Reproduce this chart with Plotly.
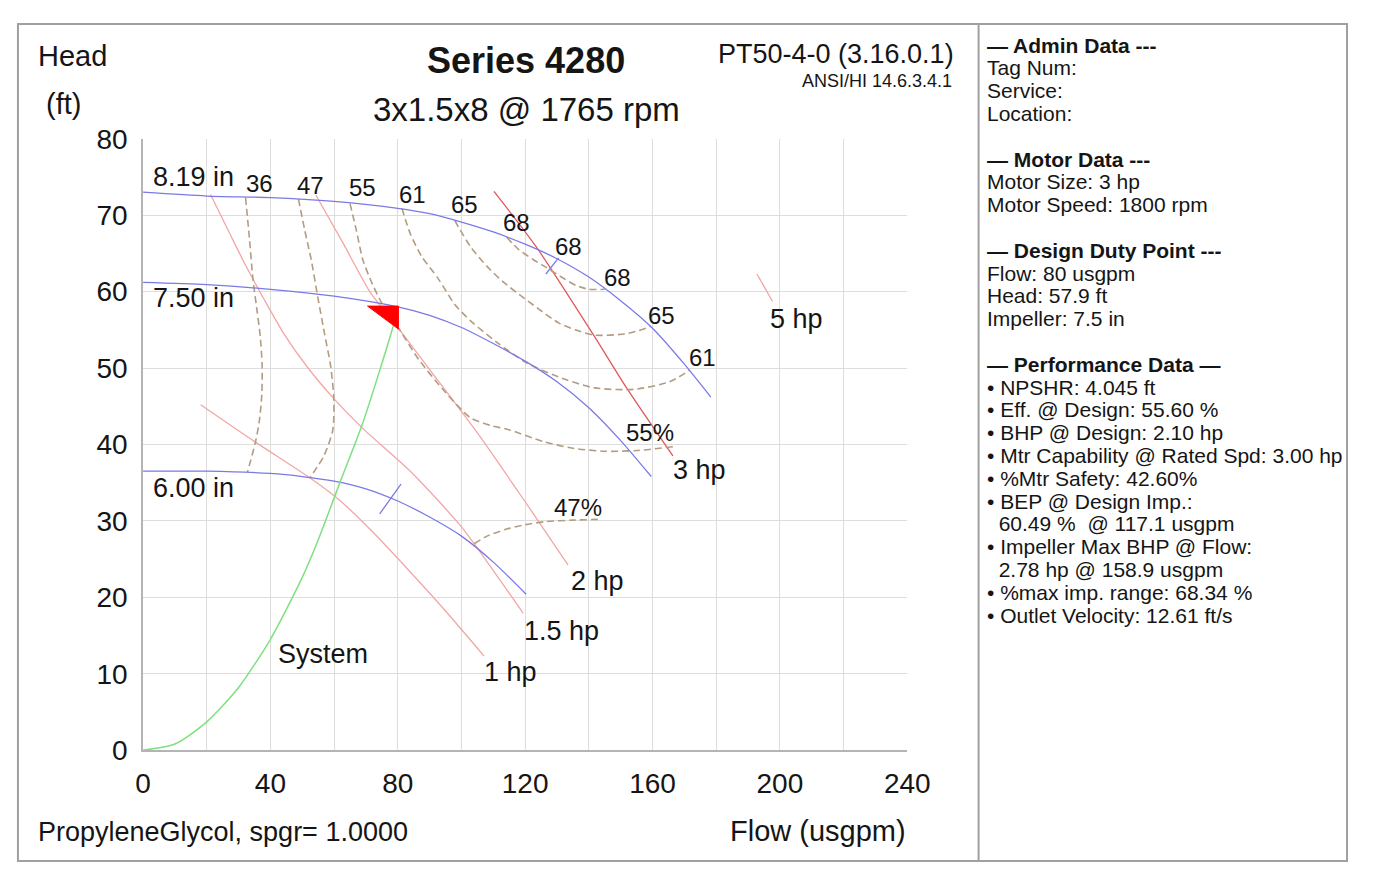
import plotly.graph_objects as go

# page has an 8px body margin; figure is sized to fit the 1379x886 window exactly
OFF = 8
FW, FH = 1379 - 2 * OFF, 886 - 2 * OFF

# ---------------- data ----------------
# Impeller head curves (flow usgpm, head ft)
IMP_819_Q = [0, 20, 40, 60, 80, 90, 100, 110, 120, 130, 140, 150, 160, 170, 178.3]
IMP_819_H = [73.0, 72.5, 72.3, 71.8, 70.9, 70.2, 69.1, 67.8, 66.2, 64.3, 61.9, 58.8, 55.2, 50.5, 46.2]
IMP_750_Q = [0, 20, 40, 60, 80, 90, 100, 110, 120, 130, 140, 150, 159.6]
IMP_750_H = [61.2, 60.9, 60.3, 59.4, 58.0, 56.9, 55.3, 53.2, 50.9, 48.2, 44.8, 40.5, 35.8]
IMP_600_Q = [0, 20, 40, 50, 60, 70, 80, 90, 100, 110, 120.3]
IMP_600_H = [36.5, 36.5, 36.2, 35.8, 35.2, 34.2, 32.6, 30.5, 28.0, 24.6, 20.4]
IMP_LABELS = ["8.19 in", "7.50 in", "6.00 in"]
IMP_LABEL_H = [75.0, 59.2, 34.3]

# Efficiency iso-lines (%)
E36_Q = [32.2, 33.4, 34.5, 35.8, 36.8, 37.4, 37.3, 36.5, 35.3, 32.8]
E36_H = [72.3, 67.0, 61.7, 57.5, 54.2, 50.3, 46.5, 43.0, 40.3, 36.4]
E47A_Q = [48.8, 50.8, 52.8, 55.0, 57.0, 58.9, 59.9, 59.6, 56.8, 52.5]
E47A_H = [72.1, 68.0, 64.2, 59.0, 54.5, 50.3, 46.1, 41.9, 38.5, 35.7]
E47B_Q = [104, 108, 114, 120, 126.5, 135, 144]
E47B_H = [27.0, 28.0, 28.9, 29.5, 29.9, 30.1, 30.2]
E55_Q = [65, 67, 69, 72, 75.2, 78, 80.4, 86.6, 94.8, 102.8, 109, 115.1, 125.5, 135, 145, 155, 166.4]
E55_H = [71.5, 68.0, 64.2, 61.0, 58.3, 56.4, 55.1, 51.1, 46.9, 43.5, 42.5, 41.9, 40.4, 39.5, 39.1, 39.2, 39.7]
E61_Q = [81.3, 84, 87.5, 92.7, 97.9, 102.8, 111, 120.3, 132, 141.8, 154, 165.4, 171.6]
E61_H = [70.9, 67.5, 64.6, 61.7, 58.3, 56.2, 53.4, 50.7, 48.6, 47.4, 47.2, 48.2, 49.7]
E65_Q = [97.9, 102.8, 108, 113, 118.2, 124, 130.5, 135.7, 141.8, 152, 159.3]
E65_H = [69.3, 65.9, 63.3, 61.3, 59.6, 57.8, 55.9, 55.0, 54.3, 54.5, 55.4]
E68_Q = [114.2, 118, 122.5, 126.5, 131, 136, 140, 145]
E68_H = [67.1, 65.5, 64.2, 63.2, 62.0, 60.8, 60.3, 60.3]

EFF_LABELS = ["36", "47", "55", "61", "65", "68", "68", "68", "65", "61", "55%", "47%"]
EFF_LABEL_Q = [36.5, 52.5, 68.8, 84.7, 101, 117.3, 133.5, 148.9, 162.7, 175.6, 159.3, 136.6]
EFF_LABEL_H = [74.1, 73.9, 73.6, 72.7, 71.4, 69.0, 65.9, 61.8, 56.9, 51.4, 41.5, 31.8]

# Power lines (hp)
P1_Q = [18.1, 35.3, 52.8, 62, 72, 83.5, 95, 107.1]
P1_H = [45.2, 40.3, 35.5, 32.6, 28.6, 23.5, 18.2, 12.3]
P15_Q = [21.2, 27, 32, 38, 44.5, 52, 59.9, 69, 84.4, 99.8, 110, 119.4]
P15_H = [72.7, 67.8, 63.6, 59.0, 54.3, 49.9, 46.0, 42.1, 36.3, 29.3, 23.5, 17.9]
P2_Q = [54.3, 63, 71.2, 80.4, 90, 105, 120, 133.5]
P2_H = [72.6, 66.2, 60.0, 55.1, 49.8, 41.5, 32.5, 24.2]
P3_Q = [110.2, 123.4, 141.8, 152, 166.4]
P3_H = [73.1, 65.9, 54.1, 47.3, 38.5]
P5_Q = [192.8, 197.7]
P5_H = [62.3, 58.7]

POWER_LABELS = ["1 hp", "1.5 hp", "2 hp", "3 hp", "5 hp", "System"]
POWER_LABEL_Q = [115.4, 131.4, 142.7, 174.6, 205.3, 56.5]
POWER_LABEL_H = [10.2, 15.6, 22.1, 36.6, 56.4, 12.6]

# System curve
SYS_Q = [0, 10, 20, 30, 40, 50, 55, 62, 69, 78.3, 80]
SYS_H = [0, 0.8, 3.7, 8.2, 14.5, 22.6, 27.5, 35.2, 42.8, 55.1, 57.9]

# Small markers on impeller curves
BEP_TICK_Q = [126.5, 130.5]
BEP_TICK_H = [62.3, 64.4]
MIN_TICK_Q = [74.3, 81.0]
MIN_TICK_H = [30.9, 34.8]

# Design duty point
DESIGN_Q = 80
DESIGN_H = 57.9

X_TICKS = [0, 40, 80, 120, 160, 200, 240]
Y_TICKS = [0, 10, 20, 30, 40, 50, 60, 70, 80]

PANEL_LINES = [
    "<b>— Admin Data ---</b>",
    "Tag Num:",
    "Service:",
    "Location:",
    "",
    "<b>— Motor Data ---</b>",
    "Motor Size: 3 hp",
    "Motor Speed: 1800 rpm",
    "",
    "<b>— Design Duty Point ---</b>",
    "Flow: 80 usgpm",
    "Head: 57.9 ft",
    "Impeller: 7.5 in",
    "",
    "<b>— Performance Data —</b>",
    "• NPSHR: 4.045 ft",
    "• Eff. @ Design: 55.60 %",
    "• BHP @ Design: 2.10 hp",
    "• Mtr Capability @ Rated Spd: 3.00 hp",
    "• %Mtr Safety: 42.60%",
    "• BEP @ Design Imp.:",
    "  60.49 %  @ 117.1 usgpm",
    "• Impeller Max BHP @ Flow:",
    "  2.78 hp @ 158.9 usgpm",
    "• %max imp. range: 68.34 %",
    "• Outlet Velocity: 12.61 ft/s",
]

# ---------------- styles ----------------
FONT = "Liberation Sans, Arial, sans-serif"
BLUE = "#7a7ae6"
PINK = "#f2a6a6"
RED3 = "#e05858"
GREEN = "#7ee07e"
TAN = "#b49c80"
TXT = "#151515"


def px(xp):
    return (xp - OFF) / FW


def py(yp):
    return 1 - (yp - OFF) / FH


fig = go.Figure()


def add_line(q, h, color, width=1.3, dash=None, smooth=0.7):
    fig.add_trace(go.Scatter(
        x=q, y=h, mode="lines", hoverinfo="skip", showlegend=False,
        line=dict(color=color, width=width, dash=dash, shape="spline", smoothing=smooth)))


# power lines
for q, h in [(P1_Q, P1_H), (P15_Q, P15_H), (P2_Q, P2_H), (P5_Q, P5_H)]:
    add_line(q, h, PINK, 1.3)
add_line(P3_Q, P3_H, RED3, 1.3)

# efficiency lines
for q, h in [(E36_Q, E36_H), (E47A_Q, E47A_H), (E47B_Q, E47B_H), (E55_Q, E55_H),
             (E61_Q, E61_H), (E65_Q, E65_H), (E68_Q, E68_H)]:
    add_line(q, h, TAN, 1.6, dash="7px,4px")

# impeller curves
for q, h in [(IMP_819_Q, IMP_819_H), (IMP_750_Q, IMP_750_H), (IMP_600_Q, IMP_600_H)]:
    add_line(q, h, BLUE, 1.3)
for q, h in [(BEP_TICK_Q, BEP_TICK_H), (MIN_TICK_Q, MIN_TICK_H)]:
    add_line(q, h, BLUE, 1.3, smooth=0)

# system curve
add_line(SYS_Q, SYS_H, GREEN, 1.5)

# design point triangle (anchored on the duty point)
fig.add_trace(go.Scatter(
    x=[DESIGN_Q - 9.5, DESIGN_Q + 0.2, DESIGN_Q + 0.2, DESIGN_Q - 9.5],
    y=[DESIGN_H + 0.2, DESIGN_H + 0.2, DESIGN_H - 2.8, DESIGN_H + 0.2],
    mode="lines", fill="toself", fillcolor="#ff0000",
    line=dict(color="#ff0000", width=1), hoverinfo="skip", showlegend=False))

annotations = []
for lab, hh in zip(IMP_LABELS, IMP_LABEL_H):
    annotations.append(dict(x=2.5, y=hh, xref="x", yref="y", text=lab, showarrow=False,
                            xanchor="left", yanchor="middle", font=dict(size=27, color=TXT)))
for lab, qq, hh in zip(EFF_LABELS, EFF_LABEL_Q, EFF_LABEL_H):
    annotations.append(dict(x=qq, y=hh, xref="x", yref="y", text=lab, showarrow=False,
                            xanchor="center", yanchor="middle", font=dict(size=24, color=TXT)))
for lab, qq, hh in zip(POWER_LABELS, POWER_LABEL_Q, POWER_LABEL_H):
    annotations.append(dict(x=qq, y=hh, xref="x", yref="y", text=lab, showarrow=False,
                            xanchor="center", yanchor="middle", font=dict(size=27, color=TXT)))


def ptext(text, x, y, size, anchor="left", bold=False):
    annotations.append(dict(x=px(x), y=py(y), xref="paper", yref="paper",
                            text=f"<b>{text}</b>" if bold else text, showarrow=False,
                            xanchor=anchor, yanchor="middle",
                            font=dict(size=size, color=TXT)))


ptext("Head", 28, 42, 29)
ptext("(ft)", 37, 92, 29)
ptext("Series 4280", 530, 47, 36, "center", bold=True)
ptext("3x1.5x8 @ 1765 rpm", 530, 98, 33, "center")
ptext("PT50-4-0 (3.16.0.1)", 970, 40, 27, "right")
ptext("ANSI/HI 14.6.3.4.1", 968, 68, 18, "right")
ptext("PropyleneGlycol, spgr= 1.0000", 28, 847, 27)
ptext("Flow (usgpm)", 921, 846, 29, "right")

for i, line_txt in enumerate(PANEL_LINES):
    if line_txt:
        ptext(line_txt.replace("  ", "&nbsp;&nbsp;"), 1000, 31 + i * 23.64, 21)

shapes = [
    dict(type="rect", xref="paper", yref="paper", x0=px(10), x1=px(1370), y0=py(877), y1=py(9),
         line=dict(color="#a0a0a0", width=2)),
    dict(type="line", xref="paper", yref="paper", x0=px(993), x1=px(993), y0=py(877), y1=py(9),
         line=dict(color="#a0a0a0", width=2)),
]

fig.update_layout(
    width=FW, height=FH, autosize=False,
    margin=dict(l=0, r=0, t=0, b=0),
    paper_bgcolor="white", plot_bgcolor="white",
    font=dict(family=FONT, color=TXT),
    annotations=annotations, shapes=shapes,
    xaxis=dict(domain=[px(138), px(920)], range=[0, 240], tickvals=X_TICKS,
               showgrid=True, gridcolor="#dddddd", gridwidth=1,
               minor=dict(dtick=20, showgrid=True, gridcolor="#dddddd", gridwidth=1),
               zeroline=False, showline=True, linecolor="#b4b4b4", linewidth=1.5,
               ticks="", ticklabelstandoff=8, tickfont=dict(size=28, color=TXT)),
    yaxis=dict(domain=[py(762), py(128)], range=[0, 80], tickvals=Y_TICKS,
               showgrid=True, gridcolor="#dddddd", gridwidth=1,
               zeroline=False, showline=True, linecolor="#b4b4b4", linewidth=1.5,
               ticks="", ticklabelstandoff=8, tickfont=dict(size=28, color=TXT)),
)

fig.write_html("out.html", config={"displayModeBar": False})
